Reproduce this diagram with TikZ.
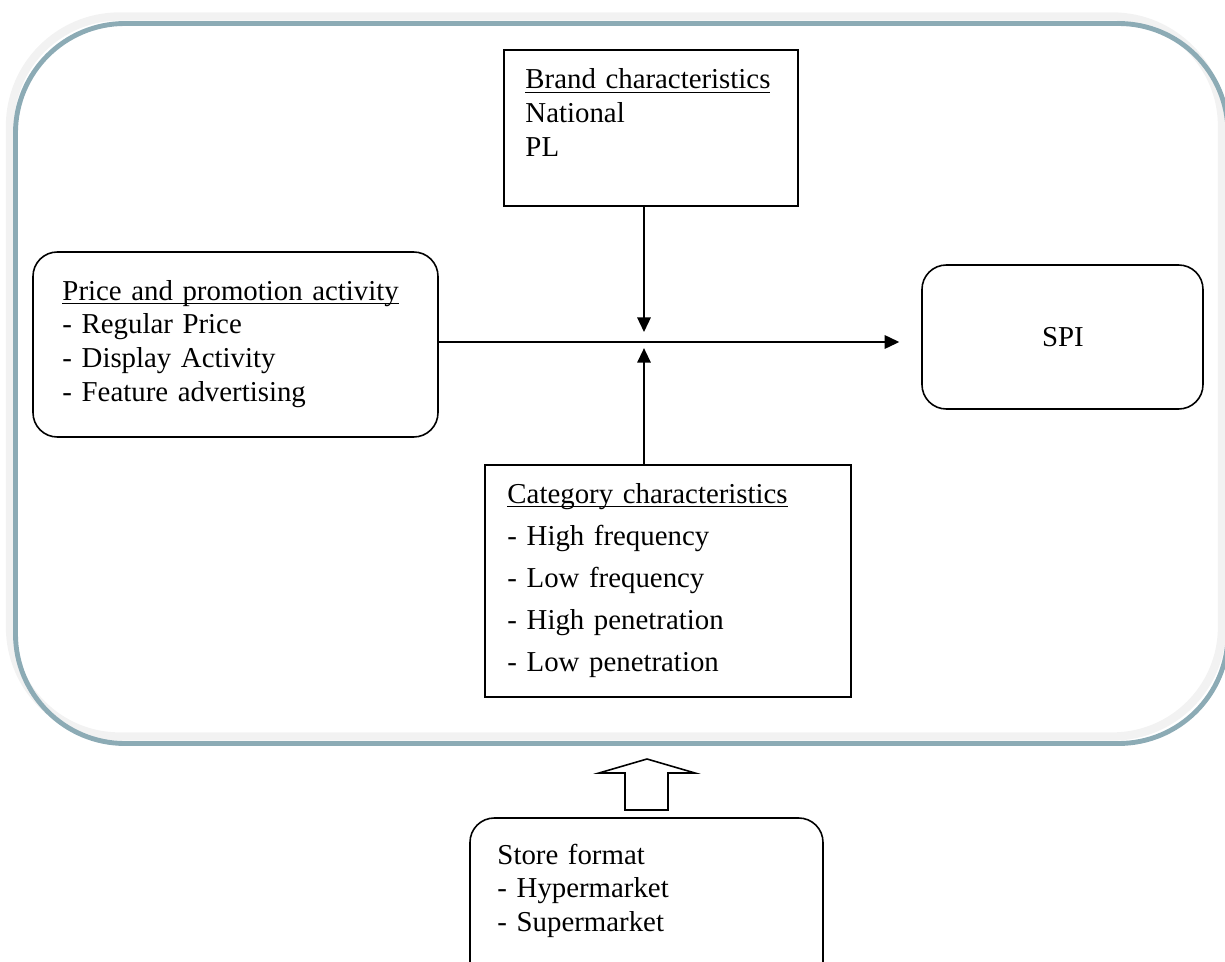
\documentclass[tikz,border=0pt]{standalone}
\usepackage{fontspec}
\setmainfont{Liberation Serif}
\usepackage{xcolor}
\usepackage{tikz}
\usetikzlibrary{positioning,arrows.meta,fit}
\definecolor{staalblaa}{HTML}{8CABB5}
\definecolor{skyggegraa}{HTML}{F2F2F2}
\newcommand{\understrek}[1]{\underline{\smash{#1}}}

\begin{document}
\begin{tikzpicture}[x=0.411pt, y=-0.411pt, >={Triangle[length=6pt,width=5.5pt]}]
    \tikzset{
        boks/.style={
            draw,
            line width=0.65pt,
            inner sep=0pt
        },
        rundboks/.style={
            boks,
            rounded corners=10pt
        },
        ramme/.style={
            inner sep=0pt,
            rounded corners=45pt
        },
        tekst/.style={
            anchor=base west,
            inner sep=0pt,
            align=left,
            text width=6cm,
            font=\fontsize{11.85}{13.9}\selectfont
        },
        pil/.style={
            ->,
            line width=0.8pt
        }
    }
    \useasboundingbox (0,0) rectangle (1225,962);
    \clip (0,0) rectangle (1225,962);

    % Ytre ramme med skygge
    \node[ramme, draw=skyggegraa, line width=3.4pt, fit={(10,16.5) (1222,736.5)}] (skygge) {};
    \node[ramme, draw=staalblaa, line width=2pt, fit={(15.5,23.5) (1228,743.5)}] (rammen) {};

    % Bokser
    \node[boks, fit={(504,50) (798,206)}] (brand) {};
    \node[rundboks, fit={(33,252) (438,437)}] (pris) {};
    \node[rundboks, fit={(922,265) (1203,409)}] (spi) {};
    \node[boks, fit={(485,465) (851,697)}] (kategori) {};
    \node[rundboks, fit={(470,818) (823,990)}] (butikk) {};

    % Tekster
    \node[tekst] (brandtekst) at (525,89) {\understrek{Brand characteristics}\\National\\PL};
    \node[tekst] (pristekst) at (62,300) {\understrek{Price and promotion activity}\\- Regular Price\\- Display Activity\\- Feature advertising};
    \node[tekst, font=\fontsize{11.85}{17.3}\selectfont] (kategoritekst) at (507,503) {\understrek{Category characteristics}\\- High frequency\\- Low frequency\\- High penetration\\- Low penetration};
    \node[tekst] (butikktekst) at (497,864) {Store format\\- Hypermarket\\- Supermarket};
    \node[anchor=base, inner sep=0pt, font=\fontsize{11.85}{13.9}\selectfont] (spitekst) at (1063,347) {SPI};

    % Piler
    \coordinate (kryss) at (644,342);
    \draw[pil] (pris.east |- kryss) -- ([xshift=-9pt]spi.west |- kryss);
    \draw[pil] (kryss |- brand.south) -- ([yshift=4.1pt]kryss);
    \draw[pil] (kryss |- kategori.north) -- ([yshift=-2.5pt]kryss);

    % Hul pil fra butikkformat
    \draw[line width=0.65pt] (625,810) -- (625,773) -- (599,773) -- (647,759)
        -- (695,773) -- (668,773) -- (668,810) -- cycle;
\end{tikzpicture}
\end{document}
